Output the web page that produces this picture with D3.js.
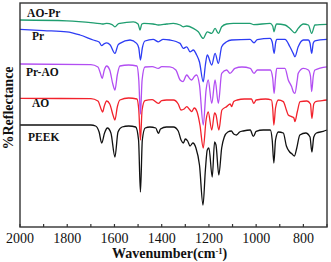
<!DOCTYPE html>
<html>
<head>
<meta charset="utf-8">
<script src="https://cdn.jsdelivr.net/npm/d3@7"></script>
<style>
  body { margin: 0; background: #fff; }
  text { font-family: "Liberation Serif", "Times New Roman", serif; }
</style>
</head>
<body>
<div id="chart"></div>
<script>
// spectra: [wavenumber, %R (offset, arbitrary units)]
const peek = [
  [2000, 51], [1700, 51], [1680, 50.5], [1665, 47.5], [1654, 42], [1642, 47], [1630, 49.5],
  [1615, 47], [1598, 35], [1585, 47.5], [1568, 50], [1540, 50.5], [1510, 50], [1498, 43.5],
  [1490, 17.5], [1482, 43.5], [1470, 49.5], [1450, 50], [1425, 49.5], [1414, 46.8], [1405, 49],
  [1380, 50], [1350, 50], [1330, 48], [1318, 43.5], [1308, 42], [1300, 44], [1290, 43],
  [1280, 40.5], [1268, 42], [1255, 39.5], [1240, 31], [1225, 11], [1215, 28.5], [1207, 38.5],
  [1200, 39.5], [1186, 25], [1176, 42.5], [1170, 41], [1158, 26], [1146, 39.5], [1135, 45],
  [1120, 47.5], [1105, 48], [1095, 46.5], [1083, 46], [1070, 47.5], [1055, 48], [1025, 48.5],
  [1012, 45.3], [1000, 47.8], [970, 48.5], [940, 48.5], [932, 43.5], [925, 32], [918, 43.5],
  [906, 47.5], [885, 47], [872, 40.5], [858, 37.5], [848, 36.5], [838, 35.5], [828, 39.5],
  [815, 46], [790, 47], [772, 45], [764, 37.5], [756, 45], [745, 47], [716, 47.8], [700, 48.5]
];
const ao = [
  [2000, 64.3], [1700, 64.2], [1670, 63], [1655, 58.5], [1650, 57.5], [1643, 60.5], [1633, 63],
  [1620, 61.5], [1605, 55.5], [1598, 53.5], [1588, 60], [1577, 63.5], [1540, 64.5], [1505, 64],
  [1497, 58.5], [1490, 43.5], [1483, 58.5], [1471, 63.2], [1440, 63.7], [1414, 61.8], [1400, 63.2],
  [1379, 63.5], [1350, 63.5], [1330, 61.5], [1318, 58.5], [1305, 59], [1294, 60.2], [1280, 58.5],
  [1273, 57.7], [1262, 59.5], [1250, 57.5], [1238, 51], [1224, 39.5], [1212, 53.5], [1203, 57.5],
  [1188, 48.5], [1176, 57], [1170, 56], [1158, 48.5], [1145, 58.5], [1125, 60.2], [1110, 61.5],
  [1104, 60.2], [1095, 62.7], [1080, 63.5], [1050, 64], [1020, 64], [1010, 61.8], [1000, 63.5],
  [960, 64], [935, 63.5], [930, 59.5], [925, 51], [918, 59.5], [906, 63.5], [885, 62.7],
  [872, 58.5], [864, 56], [850, 55.2], [840, 54.5], [836, 52.7], [826, 57.5], [814, 62.7],
  [785, 63], [770, 61.5], [764, 54.3], [756, 61.5], [748, 62.7], [720, 63.2], [700, 63.5]
];
const prAo = [
  [2000, 81.5], [1700, 81.2], [1670, 80], [1660, 77], [1652, 74.3], [1643, 78.5], [1633, 80.5],
  [1620, 78.5], [1607, 71.5], [1598, 68.5], [1588, 76], [1577, 80.5], [1540, 81], [1505, 80.5],
  [1497, 73.5], [1490, 56.5], [1483, 73.5], [1471, 80], [1440, 80.2], [1414, 79.3], [1400, 80.2],
  [1365, 80.1], [1340, 78.5], [1322, 73.5], [1310, 72.7], [1294, 76], [1280, 74], [1273, 73.5],
  [1260, 75.5], [1252, 76], [1240, 71], [1224, 51], [1212, 68.5], [1203, 73.5], [1188, 61.8],
  [1174, 73.5], [1160, 61.8], [1146, 76.8], [1125, 78.5], [1111, 76.8], [1090, 79.3], [1060, 80],
  [1025, 79.3], [1009, 76.8], [995, 78.5], [940, 78.5], [930, 74.5], [924, 66.8], [918, 74.5],
  [913, 79.3], [878, 79.3], [864, 73.5], [850, 70.2], [843, 67.7], [836, 66.8], [826, 73.5],
  [822, 76.8], [800, 79.3], [779, 78.5], [770, 75.5], [765, 67.7], [758, 75.5], [751, 78.5],
  [700, 80.1]
];
const pr = [
  [2000, 98.8], [1900, 98.2], [1802, 97.6], [1746, 96], [1690, 93.5], [1665, 92.5], [1654, 90.7],
  [1645, 91.5], [1633, 92.1], [1618, 91], [1598, 86.8], [1585, 91], [1577, 91.8], [1534, 93.5],
  [1506, 91.8], [1497, 89.5], [1490, 83.5], [1482, 89.5], [1471, 93], [1436, 93.8], [1414, 92.6],
  [1394, 93.8], [1365, 93.5], [1322, 91.8], [1309, 89.3], [1294, 90.1], [1280, 87.6], [1266, 88.5],
  [1252, 86], [1240, 82.5], [1224, 72.6], [1215, 81], [1207, 86], [1188, 81], [1174, 86.8],
  [1160, 81.8], [1146, 90.1], [1125, 92.6], [1104, 93.5], [1026, 93.8], [1009, 92.1], [995, 93.7],
  [941, 94.3], [932, 92.5], [924, 86.8], [917, 92.5], [913, 93.8], [878, 93.8], [857, 90.1],
  [843, 86.8], [836, 85.1], [822, 90.1], [800, 93.5], [779, 93.5], [772, 92], [765, 86.8],
  [758, 92], [751, 93.1], [700, 93.8]
];
const aoPr = [
  [2000, 103.5], [1802, 103.1], [1690, 102.1], [1660, 101.7], [1647, 101.5], [1633, 101.8],
  [1610, 101.2], [1598, 100.1], [1585, 101.5], [1577, 101.8], [1520, 102.6], [1500, 101.5],
  [1492, 98.5], [1484, 101.5], [1475, 101.8], [1436, 101.5], [1414, 101], [1379, 101.5],
  [1351, 101.8], [1322, 101], [1309, 100.1], [1294, 100.5], [1266, 99.3], [1245, 97.6],
  [1224, 94.3], [1207, 97.6], [1188, 96.8], [1174, 99.3], [1160, 96.8], [1146, 100.1],
  [1125, 101.5], [1097, 101.8], [1026, 101.8], [1010, 101.2], [941, 101.8], [930, 100.5],
  [924, 97.6], [918, 100.5], [913, 101.5], [878, 101], [857, 99.3], [836, 97.1], [822, 99.3],
  [800, 101.5], [779, 101], [765, 96.8], [751, 101], [700, 101.3]
];

const seriesNames = ["PEEK", "AO", "Pr-AO", "Pr", "AO-Pr"];
const seriesData = [peek, ao, prAo, pr, aoPr];
const seriesColors = ["#111111", "#f2222c", "#b24ef2", "#2d3cf4", "#1f9e70"];
// where each label sits: [wavenumber at left of text, %R of baseline]
const labelPos = [[1966, 43.2], [1949, 60], [1975, 75.5], [1949, 93.5], [1970, 105.2]];

const xTicks = [2000, 1800, 1600, 1400, 1200, 1000, 800];
const xMinor = d3.range(2000, 699, -100);

const W = 331, H = 262;
const margin = {left: 20, right: 4, top: 3, bottom: 35};

const svg = d3.select("#chart").append("svg")
  .attr("width", W).attr("height", H);

const x = d3.scaleLinear().domain([2000, 700]).range([margin.left, W - margin.right]);
const y = d3.scaleLinear().domain([0, 112]).range([H - margin.bottom, margin.top]);

const line = d3.line()
  .x(d => x(d[0]))
  .y(d => y(d[1]))
  .curve(d3.curveMonotoneX);

seriesData.forEach((s, i) => {
  svg.append("path")
    .datum(s)
    .attr("fill", "none")
    .attr("stroke", seriesColors[i])
    .attr("stroke-width", 1.3)
    .attr("stroke-linejoin", "round")
    .attr("d", line);
});

seriesNames.forEach((n, i) => {
  svg.append("text")
    .attr("x", x(labelPos[i][0]))
    .attr("y", y(labelPos[i][1]))
    .attr("font-size", 11.5)
    .attr("font-weight", "bold")
    .attr("fill", "#111")
    .text(n);
});

// frame
svg.append("rect")
  .attr("x", margin.left).attr("y", margin.top)
  .attr("width", W - margin.right - margin.left)
  .attr("height", H - margin.bottom - margin.top)
  .attr("fill", "none")
  .attr("stroke", "#333")
  .attr("stroke-width", 1.4);

// bottom ticks point inward
svg.selectAll(".tick").data(xMinor).enter().append("line")
  .attr("x1", d => x(d)).attr("x2", d => x(d))
  .attr("y1", H - margin.bottom).attr("y2", H - margin.bottom - 3)
  .attr("stroke", "#333").attr("stroke-width", 1.2);

svg.selectAll(".tl").data(xTicks).enter().append("text")
  .attr("x", d => x(d))
  .attr("y", H - margin.bottom + 16)
  .attr("text-anchor", "middle")
  .attr("font-size", 14)
  .attr("fill", "#111")
  .text(d => d);

const xt = svg.append("text")
  .attr("x", 112).attr("y", 258)
  .attr("font-size", 14)
  .attr("font-weight", "bold")
  .attr("fill", "#111");
xt.append("tspan").text("Wavenumber(cm");
xt.append("tspan").attr("dy", -4).attr("font-size", 8.5).text("-1");
xt.append("tspan").attr("dy", 4).text(")");

svg.append("text")
  .attr("transform", "translate(13,108) rotate(-90)")
  .attr("text-anchor", "middle")
  .attr("font-size", 14)
  .attr("font-weight", "bold")
  .attr("fill", "#111")
  .text("%Reflectance");
</script>
</body>
</html>
